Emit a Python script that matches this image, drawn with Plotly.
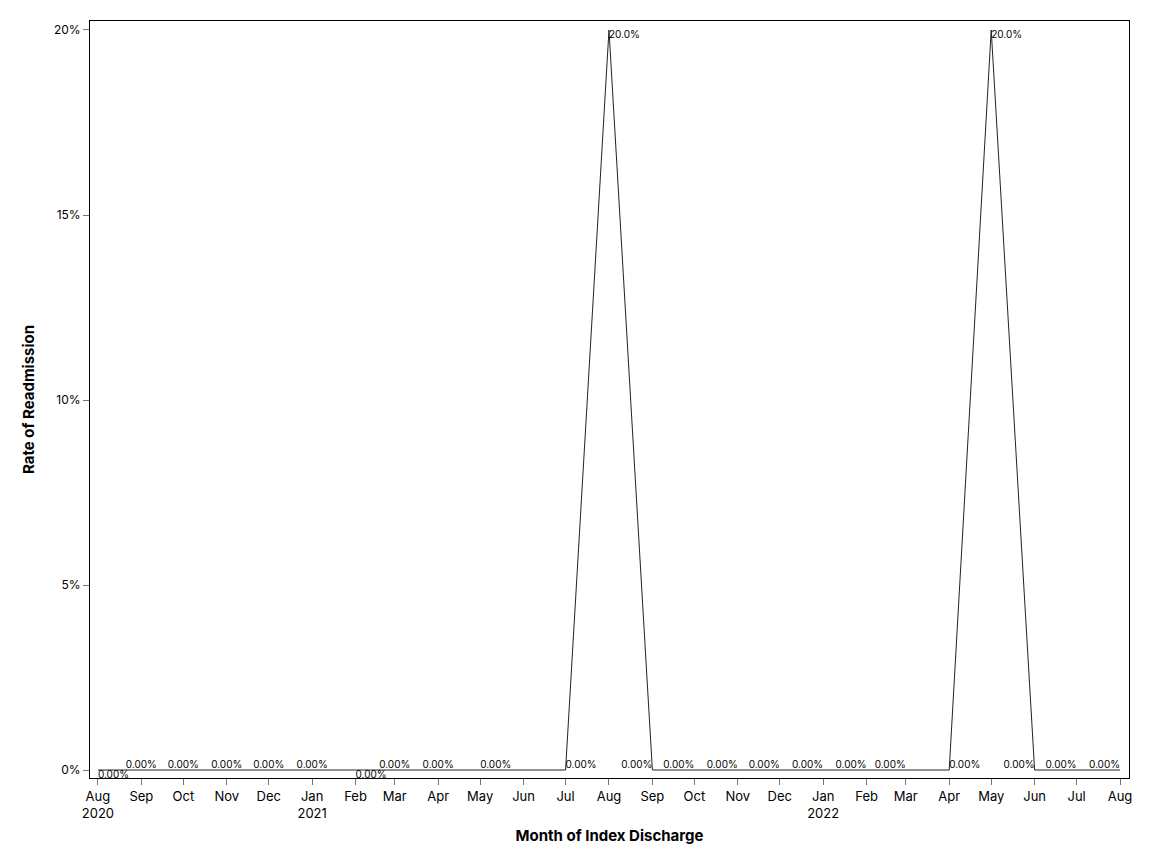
import plotly.graph_objects as go

# Monthly readmission rate by month of index discharge
months = [
    "2020-08-01", "2020-09-01", "2020-10-01", "2020-11-01", "2020-12-01",
    "2021-01-01", "2021-02-01", "2021-03-01", "2021-04-01", "2021-05-01",
    "2021-06-01", "2021-07-01", "2021-08-01", "2021-09-01", "2021-10-01",
    "2021-11-01", "2021-12-01", "2022-01-01", "2022-02-01", "2022-03-01",
    "2022-04-01", "2022-05-01", "2022-06-01", "2022-07-01", "2022-08-01",
]
rates = [
    0.0, 0.0, 0.0, 0.0, 0.0,
    0.0, 0.0, 0.0, 0.0, 0.0,
    0.0, 0.0, 0.20, 0.0, 0.0,
    0.0, 0.0, 0.0, 0.0, 0.0,
    0.0, 0.20, 0.0, 0.0, 0.0,
]
labels = [
    "0.00%", "0.00%", "0.00%", "0.00%", "0.00%",
    "0.00%", "0.00%", "0.00%", "0.00%", "0.00%",
    "", "0.00%", "20.0%", "0.00%", "0.00%",
    "0.00%", "0.00%", "0.00%", "0.00%", "0.00%",
    "0.00%", "20.0%", "0.00%", "0.00%", "0.00%",
]
# where each data label sits relative to its point
label_pos = [
    "bottom right", "top center", "top center", "top center", "top center",
    "top center", "bottom right", "top center", "top center", "top right",
    "top center", "top right", "bottom right", "top left", "top left",
    "top left", "top left", "top left", "top left", "top left",
    "top right", "bottom right", "top left", "top left", "top left",
]
tick_text = [
    "Aug<br>2020", "Sep", "Oct", "Nov", "Dec", "Jan<br>2021", "Feb", "Mar",
    "Apr", "May", "Jun", "Jul", "Aug", "Sep", "Oct", "Nov", "Dec",
    "Jan<br>2022", "Feb", "Mar", "Apr", "May", "Jun", "Jul", "Aug",
]

fig = go.Figure()
fig.add_scatter(
    x=months,
    y=rates,
    mode="lines+text",
    text=labels,
    textposition=label_pos,
    textfont=dict(family="Inter", size=10, color="black"),
    line=dict(color="#222222", width=1),
    cliponaxis=False,
    showlegend=False,
)

fig.update_layout(
    width=1136,
    height=848,
    margin=dict(l=82, r=13, t=13, b=78),
    plot_bgcolor="white",
    paper_bgcolor="white",
    font=dict(family="Inter", size=12, color="black"),
    xaxis=dict(
        type="date",
        range=["2020-07-26 08:00", "2022-08-07 10:00"],
        tickvals=months,
        ticktext=tick_text,
        ticks="outside",
        ticklen=6,
        tickcolor="#777777",
        showgrid=False,
        zeroline=False,
        showline=True,
        linecolor="black",
        linewidth=1,
        mirror=True,
        tickfont=dict(size=13),
        title=dict(text="<b>Month of Index Discharge</b>", font=dict(size=15), standoff=10),
    ),
    yaxis=dict(
        range=[-0.00216, 0.20243],
        tickvals=[0, 0.05, 0.10, 0.15, 0.20],
        tickformat=".0%",
        ticks="outside",
        ticklen=6,
        tickcolor="#777777",
        showgrid=False,
        zeroline=False,
        showline=True,
        linecolor="black",
        linewidth=1,
        mirror=True,
        tickfont=dict(size=12),
        title=dict(text="<b>Rate of Readmission</b>", font=dict(size=15), standoff=15),
    ),
)

fig.write_html("out.html")
